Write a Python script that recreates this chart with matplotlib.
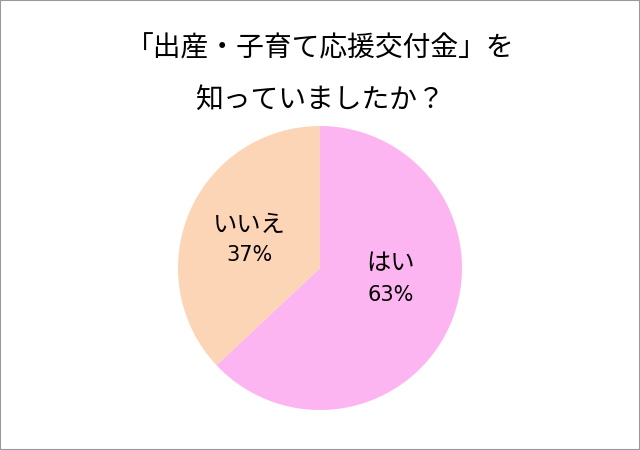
import matplotlib
matplotlib.use("Agg")
import matplotlib.pyplot as plt
from matplotlib.patches import Rectangle

plt.rcParams['font.family'] = ['Noto Sans CJK JP', 'DejaVu Sans']

labels = ["はい", "いいえ"]
values = [63, 37]
colors = ["#FDB5F1", "#FCD5B6"]
title_lines = ["「出産・子育て応援交付金」を", "知っていましたか？"]

fig = plt.figure(figsize=(6.4, 4.5), dpi=100)
fig.patches.append(Rectangle((0, 0), 1, 1, transform=fig.transFigure,
                             fill=False, edgecolor="#999999", linewidth=1.5))

W, H = 640, 450
cx, cy, r = 320, 268, 142
ax = fig.add_axes([(cx - r) / W, (H - cy - r) / H, 2 * r / W, 2 * r / H])
ax.pie(values, colors=colors, startangle=90, counterclock=False, radius=1,
       wedgeprops=dict(linewidth=0))
ax.set_xlim(-1, 1)
ax.set_ylim(-1, 1)
ax.set_aspect("equal")
ax.axis("off")

pos = [(0.495, 0.035, -0.19), (-0.495, 0.303, 0.09)]
for (x, yl, yp), lab, v in zip(pos, labels, values):
    ax.text(x, yl, lab, ha="center", va="center", fontsize=17.5)
    ax.text(x, yp, f"{v}%", ha="center", va="center", fontsize=15,
            family="DejaVu Sans")

fig.text(0.5, 1 - 48 / H, title_lines[0], ha="center", va="center", fontsize=20)
fig.text(0.5, 1 - 100 / H, title_lines[1], ha="center", va="center", fontsize=20)

fig.savefig("out.png", dpi=100)
